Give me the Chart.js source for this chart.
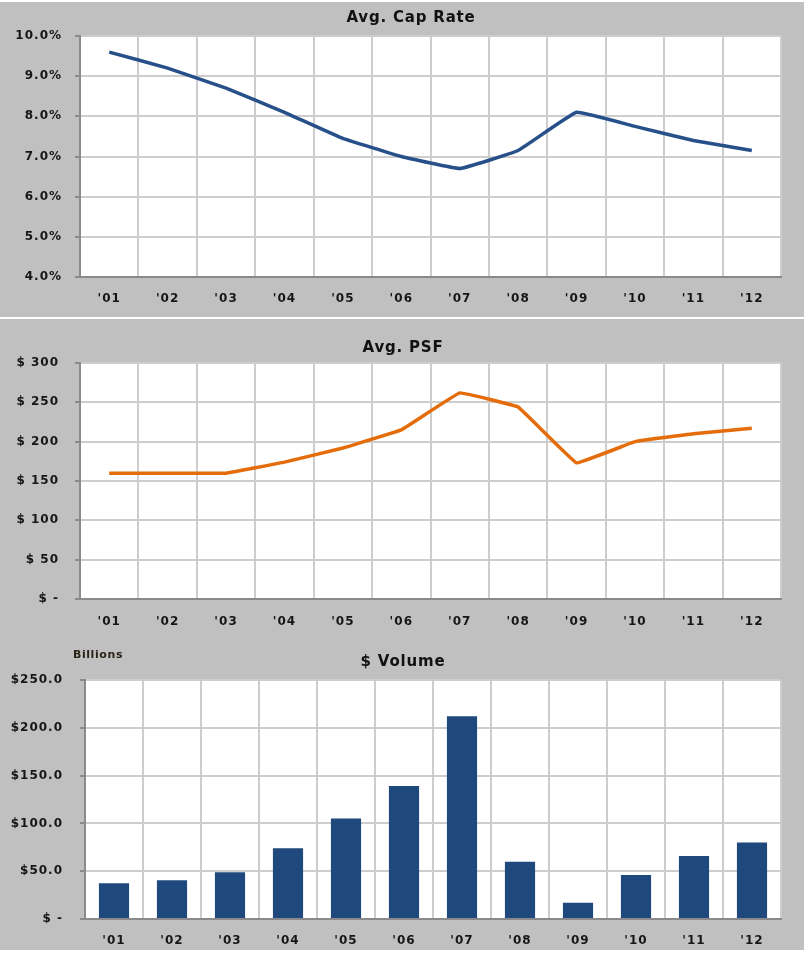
<!DOCTYPE html>
<html>
<head>
<meta charset="utf-8">
<title>Cap Rate, PSF and Volume</title>
<script src="https://cdn.jsdelivr.net/npm/chart.js@4.4.1/dist/chart.umd.min.js"></script>
<style>
  body { margin: 0; background: #fff; width: 804px; height: 953px; position: relative; overflow: hidden; }
  .panel { position: absolute; left: 0; width: 804px; background: #c0c0c0; }
  canvas { position: absolute; left: 0; }
  .title, .unit {
    position: absolute;
    transform: translate(-50%, -50%);
    font-family: "DejaVu Sans", sans-serif;
    font-weight: bold;
    color: #111;
    white-space: nowrap;
  }
  .title { font-size: 15px; letter-spacing: 0.8px; }
  .unit { font-size: 11px; letter-spacing: 0.6px; color: #2a2418; }
</style>
</head>
<body>
<div class="panel" style="top:2px;height:315px"></div>
<div class="panel" style="top:319px;height:631px"></div>

<canvas id="capChart" width="804" height="317" style="top:0"></canvas>
<canvas id="psfChart" width="804" height="320" style="top:319px"></canvas>
<canvas id="volChart" width="804" height="311" style="top:639px"></canvas>

<div class="title" style="left:411px;top:17px">Avg. Cap Rate</div>
<div class="title" style="left:403px;top:347px">Avg. PSF</div>
<div class="unit" style="left:98px;top:654px">Billions</div>
<div class="title" style="left:403px;top:661px">$ Volume</div>

<script>
const years = ["'01", "'02", "'03", "'04", "'05", "'06", "'07", "'08", "'09", "'10", "'11", "'12"]

// average cap rate, percent
const capRate = [9.6, 9.2, 8.7, 8.1, 7.45, 7.0, 6.7, 7.15, 8.1, 7.75, 7.4, 7.15]
const capRateTicks = [4, 10, 1]

// average price per square foot, dollars
const psf = [160, 160, 160, 174, 192, 215, 262, 244, 173, 200, 210, 217]
const psfTicks = [0, 300, 50]

// sales volume, $ billions
const volume = [37.5, 40.5, 49, 74, 105, 139, 212, 60, 17, 46, 66, 80]
const volumeTicks = [0, 250, 50]

const navy = "#1f497d"
const orange = "#e46c0a"
const gridColor = "#cdcdcd"
const axisColor = "#8a8a8a"

Chart.defaults.font.family = "'DejaVu Sans', sans-serif"
Chart.defaults.font.weight = "bold"
Chart.defaults.font.size = 12
Chart.defaults.color = "#161616"

// white plot area + slightly wider letters for the tick text
const plotArea = {
  id: "plotArea",
  beforeUpdate(chart) {
    chart.ctx.letterSpacing = "1px"
  },
  beforeDraw(chart) {
    const { ctx, chartArea } = chart
    ctx.letterSpacing = "1px"
    ctx.save()
    ctx.fillStyle = "#fff"
    ctx.fillRect(chartArea.left, chartArea.top, chartArea.right - chartArea.left, chartArea.bottom - chartArea.top)
    ctx.restore()
  },
}

function makeChart(id, type, dataset, ticks, formatTick, box) {
  return new Chart(document.getElementById(id), {
    type: type,
    data: { labels: years, datasets: [dataset] },
    plugins: [plotArea],
    options: {
      responsive: false,
      animation: false,
      layout: { padding: { top: box.top, right: 23, bottom: 0, left: 0 } },
      plugins: {
        legend: { display: false },
        tooltip: { enabled: false },
      },
      scales: {
        x: {
          offset: true,
          grid: { offset: true, color: gridColor, lineWidth: 2, drawTicks: false },
          border: { color: axisColor, width: 2 },
          ticks: { padding: box.xPad, maxRotation: 0 },
          afterFit: (scale) => { scale.height = box.xHeight },
        },
        y: {
          min: ticks[0],
          max: ticks[1],
          grid: { color: gridColor, lineWidth: 2, tickLength: 5, tickColor: axisColor },
          border: { color: axisColor, width: 2 },
          ticks: { stepSize: ticks[2], padding: box.yPad, callback: formatTick },
          afterFit: (scale) => { scale.width = box.left },
        },
      },
    },
  })
}

// Avg. Cap Rate
makeChart("capChart", "line", {
  data: capRate,
  borderColor: "#27508a",
  borderWidth: 3.5,
  pointRadius: 0,
  tension: 0.08,
  fill: false,
}, capRateTicks, (v) => v.toFixed(1) + "%", { top: 36, left: 80, xHeight: 40, xPad: 15, yPad: 13 })

// Avg. PSF
makeChart("psfChart", "line", {
  data: psf,
  borderColor: orange,
  borderWidth: 3.5,
  pointRadius: 0,
  tension: 0.05,
  fill: false,
}, psfTicks, (v) => (v === 0 ? "$ -" : "$ " + v), { top: 44, left: 80, xHeight: 40, xPad: 16, yPad: 16 })

// $ Volume
makeChart("volChart", "bar", {
  data: volume,
  backgroundColor: navy,
  barPercentage: 0.52,
  categoryPercentage: 1,
}, volumeTicks, (v) => (v === 0 ? "$ -" : "$" + v.toFixed(1)), { top: 41, left: 85, xHeight: 31, xPad: 15, yPad: 17 })
</script>
</body>
</html>
